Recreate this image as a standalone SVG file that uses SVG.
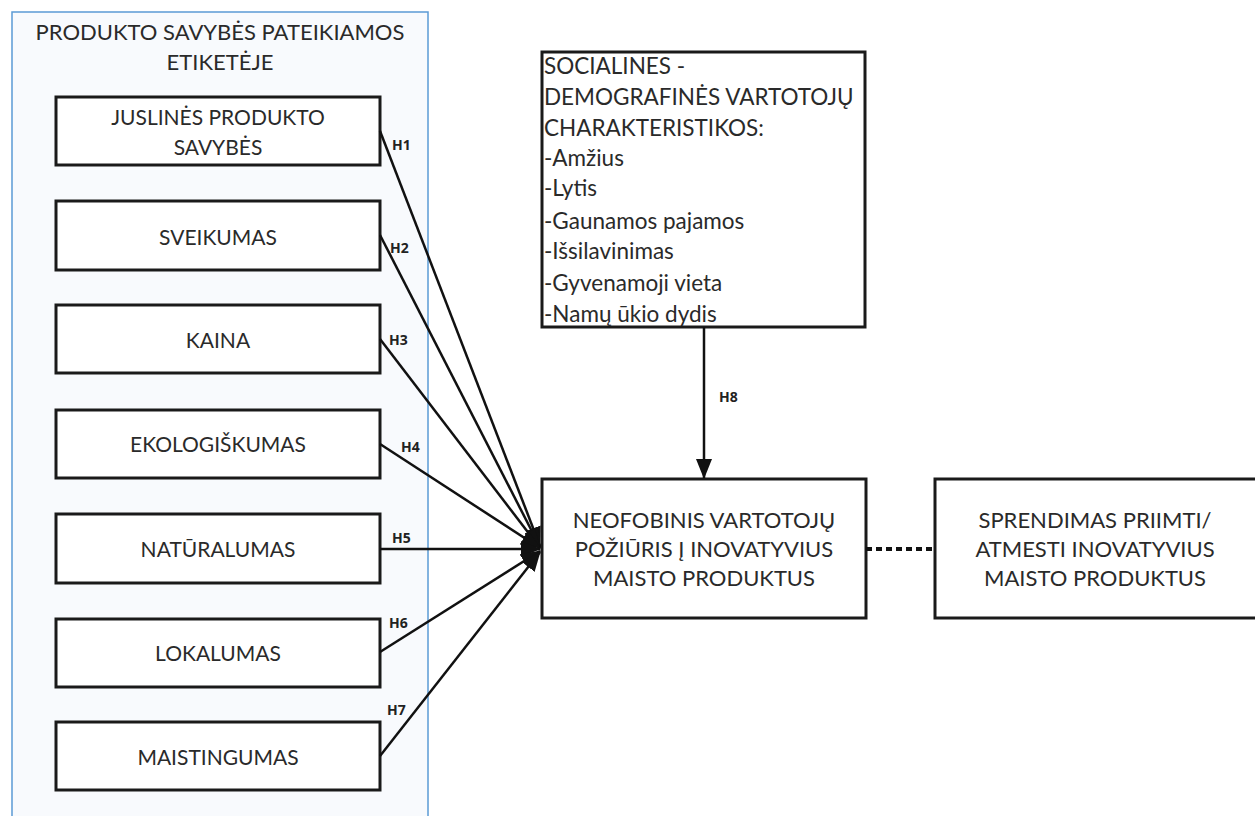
<svg xmlns="http://www.w3.org/2000/svg" width="1255" height="816" viewBox="0 0 1255 816">
<style>
.box{fill:#ffffff;stroke:#1a1a1a;stroke-width:3}
.t{font-family:Lato,"Open Sans","Liberation Sans",sans-serif;font-size:22px;fill:#2a2a2a;text-anchor:middle}
.tn{font-family:Lato,"Open Sans","Liberation Sans",sans-serif;font-size:21px;fill:#2a2a2a;text-anchor:middle}
.tl{font-family:Lato,"Open Sans","Liberation Sans",sans-serif;font-size:22.5px;fill:#2a2a2a}
.h{font-family:"Open Sans","Liberation Sans",sans-serif;font-size:14px;font-weight:bold;fill:#222}
.c{stroke:#111;stroke-width:2.5;fill:none}
</style>
<defs>
<marker id="ah" viewBox="0 0 20 16" refX="19" refY="8" markerWidth="20" markerHeight="16" markerUnits="userSpaceOnUse" orient="auto">
<path d="M0,0 L20,8 L0,16 z" fill="#111"/>
</marker>
</defs>
<rect width="1255" height="816" fill="#ffffff"/>
<g id="panel">
<rect x="12" y="12" width="416" height="820" fill="#f8fafd" stroke="#5b9bd5" stroke-width="1.5"/>
<text class="t" x="220" y="40">PRODUKTO SAVYBĖS PATEIKIAMOS</text>
<text class="t" x="220" y="70">ETIKETĖJE</text>
</g>
<g id="n1"><rect class="box" x="56" y="97" width="324" height="68"/><text class="tn" x="218" y="125">JUSLINĖS PRODUKTO</text><text class="tn" x="218" y="155">SAVYBĖS</text></g>
<g id="n2"><rect class="box" x="56" y="201" width="324" height="69"/><text class="tn" x="218" y="245">SVEIKUMAS</text></g>
<g id="n3"><rect class="box" x="56" y="305" width="324" height="68"/><text class="tn" x="218" y="348">KAINA</text></g>
<g id="n4"><rect class="box" x="56" y="410" width="324" height="68"/><text class="tn" x="218" y="452">EKOLOGIŠKUMAS</text></g>
<g id="n5"><rect class="box" x="56" y="514" width="324" height="69"/><text class="tn" x="218" y="557">NATŪRALUMAS</text></g>
<g id="n6"><rect class="box" x="56" y="619" width="324" height="68"/><text class="tn" x="218" y="661">LOKALUMAS</text></g>
<g id="n7"><rect class="box" x="56" y="722" width="324" height="68"/><text class="tn" x="218" y="765">MAISTINGUMAS</text></g>
<g id="social"><rect class="box" x="542" y="52" width="323" height="275"/>
<text class="tl" x="544" y="74">SOCIALINES -</text>
<text class="tl" x="544" y="105">DEMOGRAFINĖS VARTOTOJŲ</text>
<text class="tl" x="544" y="136">CHARAKTERISTIKOS:</text>
<text class="tl" x="544" y="166">-Amžius</text>
<text class="tl" x="544" y="196">-Lytis</text>
<text class="tl" x="544" y="229">-Gaunamos pajamos</text>
<text class="tl" x="544" y="259">-Išsilavinimas</text>
<text class="tl" x="544" y="291">-Gyvenamoji vieta</text>
<text class="tl" x="544" y="322">-Namų ūkio dydis</text>
</g>
<g id="main"><rect class="box" x="542" y="479" width="324" height="139"/>
<text class="t" x="704" y="528">NEOFOBINIS VARTOTOJŲ</text>
<text class="t" x="704" y="557">POŽIŪRIS Į INOVATYVIUS</text>
<text class="t" x="704" y="586">MAISTO PRODUKTUS</text>
</g>
<g id="decision"><rect class="box" x="935" y="479" width="340" height="139"/>
<text class="t" x="1095" y="528">SPRENDIMAS PRIIMTI/</text>
<text class="t" x="1095" y="557">ATMESTI INOVATYVIUS</text>
<text class="t" x="1095" y="586">MAISTO PRODUKTUS</text>
</g>
<g id="connectors">
<line class="c" x1="380" y1="131" x2="540" y2="546" marker-end="url(#ah)"/>
<line class="c" x1="380" y1="235" x2="540" y2="547" marker-end="url(#ah)"/>
<line class="c" x1="380" y1="339" x2="540" y2="548" marker-end="url(#ah)"/>
<line class="c" x1="380" y1="444" x2="540" y2="548" marker-end="url(#ah)"/>
<line class="c" x1="380" y1="549" x2="540" y2="549" marker-end="url(#ah)"/>
<line class="c" x1="380" y1="652" x2="540" y2="551" marker-end="url(#ah)"/>
<line class="c" x1="380" y1="756" x2="540" y2="552" marker-end="url(#ah)"/>
<line class="c" x1="704" y1="327" x2="704" y2="478" marker-end="url(#ah)"/>
<line x1="866" y1="549" x2="935" y2="549" stroke="#111" stroke-width="4" stroke-dasharray="6,4"/>
<text class="h" x="392" y="150">H1</text>
<text class="h" x="390" y="253">H2</text>
<text class="h" x="389" y="345">H3</text>
<text class="h" x="401" y="452">H4</text>
<text class="h" x="392" y="543">H5</text>
<text class="h" x="389" y="628">H6</text>
<text class="h" x="387" y="715">H7</text>
<text class="h" x="719" y="402">H8</text>
</g>
</svg>
